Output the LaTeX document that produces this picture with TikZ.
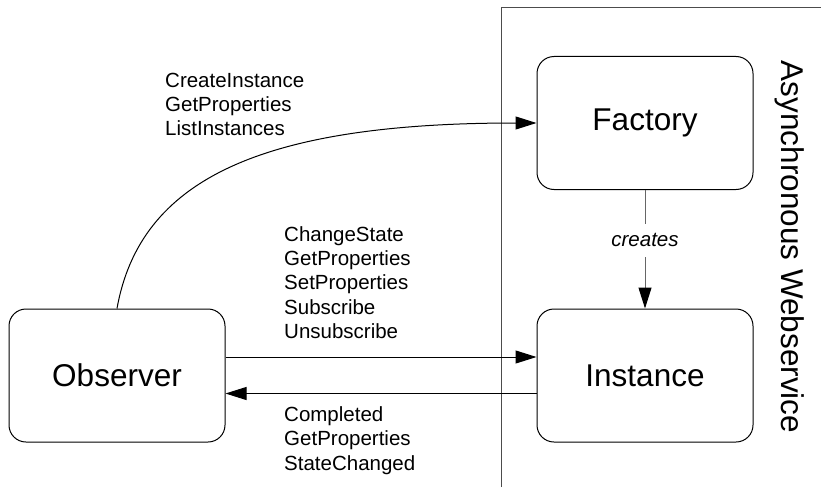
\documentclass[tikz,border=0pt]{standalone}
\usepackage{fontspec}
\setmainfont{Liberation Sans}
\usetikzlibrary{arrows.meta}
\begin{document}
\begin{tikzpicture}[x=1pt,y=-1pt,
  box/.style={draw=black, line width=1pt, rounded corners=17pt,
    minimum width=216pt, minimum height=133pt, inner sep=0pt,
    font=\fontsize{31.5}{38}\selectfont},
  msgs/.style={anchor=base west, align=left, inner sep=0pt,
    font=\fontsize{20.5}{24.4}\selectfont},
  tip/.style={-{Triangle[length=21pt,width=13pt,color=black]}},
  link/.style={line width=1pt, tip},
  frame/.style={draw=black!70, line width=1pt}]
\useasboundingbox (0,0) rectangle (821,487);

% service boundary (open towards right and bottom)
\coordinate (fb) at (501,487);
\coordinate (fc) at (501,8);
\coordinate (fr) at (821,8);
\draw[frame] (fb) -- (fc) -- (fr);

% components
\node[box] (obs)  at (117,375.5) {Observer};
\node[box] (fac)  at (645,123)   {Factory};
\node[box] (inst) at (645,375.5) {Instance};

\node[rotate=-90, font=\fontsize{31.5}{38}\selectfont] (ws) at (790,247)
  {Asynchronous Webservice};

% connectors
\draw[link] (obs.north) .. controls (140,180) and (260,123) .. (fac.west);
\draw[link] ([yshift=18.5pt]obs.east) -- ([yshift=18.5pt]inst.west);
\draw[link] ([yshift=-18pt]inst.west) -- ([yshift=-18pt]obs.east);
\draw[link, draw=black!60] (fac.south) --
  node[pos=0.425, fill=white, inner xsep=2pt, inner ysep=10pt,
       font=\fontsize{20.5}{24.4}\selectfont\itshape] (cr) {creates}
  (inst.north);

% message lists (anchored at the baseline of the last line)
\node[msgs] (m1) at (165,135.8)
  {CreateInstance\\GetProperties\\ListInstances};
\node[msgs] (m2) at (284,338.6)
  {ChangeState\\GetProperties\\SetProperties\\Subscribe\\Unsubscribe};
\node[msgs] (m3) at (284,470.3)
  {Completed\\GetProperties\\StateChanged};
\end{tikzpicture}
\end{document}
